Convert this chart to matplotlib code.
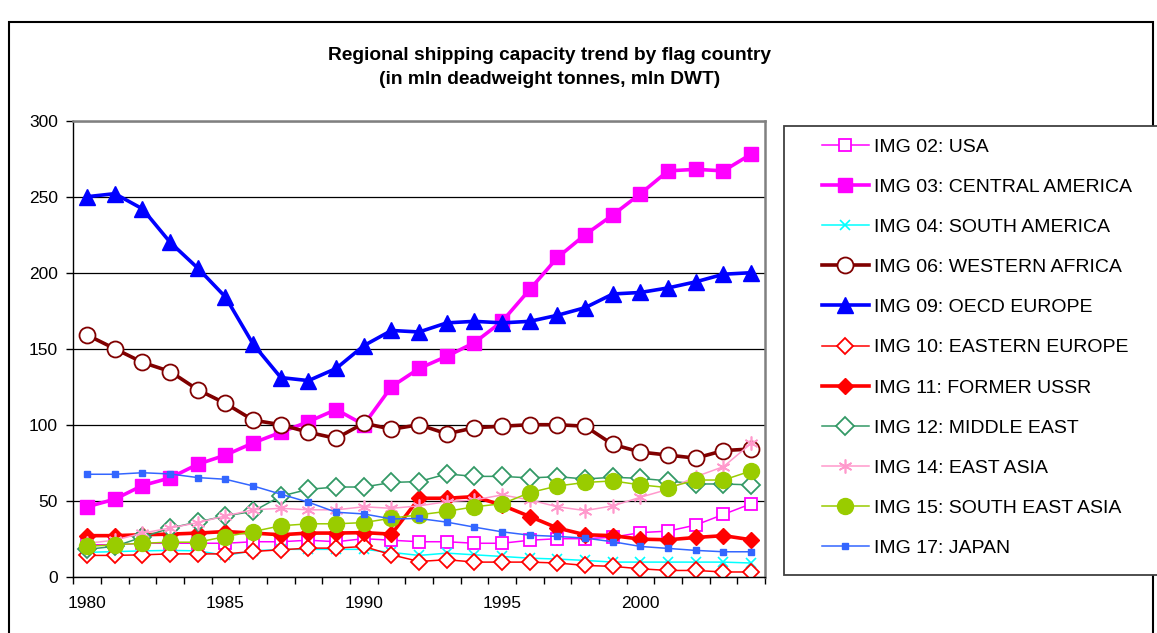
import matplotlib
matplotlib.use("Agg")
import matplotlib.pyplot as plt
from matplotlib.patches import Rectangle

plt.rcParams['font.family'] = ['Liberation Sans', 'DejaVu Sans']

years = list(range(1980, 2005))

usa = [21, 21, 22, 22, 22, 22, 23, 23, 24, 23, 25, 24, 23, 23, 22, 22, 24, 25, 25, 26, 29, 30, 34, 41, 48]
central_america = [46, 51, 60, 65, 74, 80, 88, 95, 102, 110, 100, 125, 137, 145, 154, 168, 189, 210, 225, 238, 252, 267, 268, 267, 278]
south_america = [16, 16.5, 17, 17.3, 17, 14, 17, 18, 18, 18, 18, 16, 14, 15.5, 14.4, 13.3, 12.2, 11.6, 10.7, 9.6, 9.6, 9.6, 9.6, 9.6, 9]
western_africa = [159, 150, 141, 135, 123, 114, 103, 100, 95, 91, 101, 97, 100, 94, 98, 99, 100, 100, 99, 87, 82, 80, 78, 83, 84]
oecd_europe = [250, 252, 242, 220, 203, 184, 153, 131, 129, 137, 152, 162, 161, 167, 168, 167, 168, 172, 177, 186, 187, 190, 194, 199, 200]
eastern_europe = [14, 14, 14.4, 15, 15, 15, 16.6, 17.7, 18.8, 18.8, 19.9, 14.4, 10, 11.2, 9.6, 9.6, 9.6, 9, 7.4, 6.8, 5.2, 4.1, 4.1, 3.1, 3.1]
former_ussr = [27, 27, 27.6, 28, 28.7, 29.7, 28.7, 27.6, 28.7, 28.7, 29, 28, 51.6, 51.6, 52.7, 47, 39.6, 32, 27.6, 27, 24.7, 24.3, 25.8, 27, 24.3]
middle_east = [18, 20, 26, 32, 36, 40, 43, 53, 57.5, 59, 59, 62, 62.6, 67.6, 66, 66, 65, 65.8, 64.3, 65.4, 64.7, 63, 61, 61, 60.4]
east_asia = [22, 24, 28.7, 32, 35.6, 40, 44, 45, 44, 44, 46, 45, 46.6, 49.4, 50.5, 53.8, 50.5, 46, 43.5, 46.6, 52.3, 57.5, 65.8, 72.4, 87.7]
se_asia = [20, 21, 22, 22.7, 22.7, 26.4, 29.7, 33.5, 34.8, 34.8, 35.6, 38.5, 40.7, 43, 46, 48, 55.3, 59.7, 62, 63, 60.4, 58.6, 63.6, 63.6, 69.6]
japan = [67.4, 67.4, 68.4, 67.6, 65.2, 64.1, 59.7, 54.3, 49, 42.4, 41.3, 38, 38.3, 35.9, 32.6, 29.5, 27.3, 26.5, 25.4, 23, 19.9, 18.6, 17.3, 16.4, 16.4]

labels = ["IMG 02: USA", "IMG 03: CENTRAL AMERICA", "IMG 04: SOUTH AMERICA",
          "IMG 06: WESTERN AFRICA", "IMG 09: OECD EUROPE", "IMG 10: EASTERN EUROPE",
          "IMG 11: FORMER USSR", "IMG 12: MIDDLE EAST", "IMG 14: EAST ASIA",
          "IMG 15: SOUTH EAST ASIA", "IMG 17: JAPAN"]

fig = plt.figure(figsize=(11.57, 6.33), dpi=100)
ax = fig.add_axes([73.3 / 1157, 1 - 576.7 / 633, (765 - 73.3) / 1157, (576.7 - 120.7) / 633])

thin = 1.1
thick = 2.6
ax.plot(years, usa, color='#FF00FF', lw=thin, marker='s', ms=9, mfc='white', mec='#FF00FF', mew=1.3, label=labels[0])
ax.plot(years, central_america, color='#FF00FF', lw=thick, marker='s', ms=10, mfc='#FF00FF', mec='#FF00FF', label=labels[1])
ax.plot(years, south_america, color='#00FFFF', lw=thin, marker='x', ms=7, mew=1.2, label=labels[2])
ax.plot(years, western_africa, color='#800000', lw=thick, marker='o', ms=11.5, mfc='white', mec='#800000', mew=1.3, label=labels[3])
ax.plot(years, oecd_europe, color='#0000FF', lw=thick, marker='^', ms=11.5, mfc='#0000FF', mec='#0000FF', label=labels[4])
ax.plot(years, eastern_europe, color='#FF0000', lw=thin, marker='D', ms=8, mfc='white', mec='#FF0000', mew=1.3, label=labels[5])
ax.plot(years, former_ussr, color='#FF0000', lw=thick, marker='D', ms=8.5, mfc='#FF0000', mec='#FF0000', label=labels[6])
ax.plot(years, middle_east, color='#339966', lw=thin, marker='D', ms=9.5, mfc='white', mec='#339966', mew=1.3, label=labels[7])
ax.plot(years, east_asia, color='#FF99CC', lw=thin, marker=(6, 2, 0), ms=10, mew=1.2, mec='#FF99CC', label=labels[8])
ax.plot(years, se_asia, color='#99CC00', lw=thin, marker='o', ms=11.5, mfc='#99CC00', mec='#99CC00', label=labels[9])
ax.plot(years, japan, color='#3366FF', lw=thin, marker='s', ms=4.5, mfc='#3366FF', mec='#3366FF', label=labels[10])

ax.set_xlim(1979.5, 2004.5)
ax.set_ylim(0, 300)
ax.set_yticks(range(0, 301, 50))
ax.yaxis.grid(True, color='black', lw=0.9)
ax.set_axisbelow(True)
ax.set_xticks([1980, 1985, 1990, 1995, 2000])
ax.set_xticks([y + 0.5 for y in range(1979, 2005)], minor=True)
ax.tick_params(axis='x', which='major', length=0, pad=14, labelsize=12.5)
ax.tick_params(axis='x', which='minor', length=5, width=1, direction='out')
ax.tick_params(axis='y', length=5, width=1, pad=6, labelsize=12.5)
for s in ['left', 'bottom']:
    ax.spines[s].set_color('black')
    ax.spines[s].set_linewidth(1)
for s in ['top', 'right']:
    ax.spines[s].set_color('#808080')
    ax.spines[s].set_linewidth(1.8)

# outer frame and legend frame
fig.patches.append(Rectangle((9 / 1157, -0.05), (1153 - 9) / 1157, 1.05 - 22 / 633,
                             transform=fig.transFigure, fill=False, ec='black', lw=1.5, zorder=1))
fig.patches.append(Rectangle((784 / 1157, 1 - 575 / 633), 0.5, (575 - 125.7) / 633,
                             transform=fig.transFigure, fc='white', ec='#404040', lw=1.3, zorder=2))

h, l = ax.get_legend_handles_labels()
leg = fig.legend(h, l, loc='upper left', bbox_to_anchor=(822 / 1157, 1 - 138 / 633),
                 frameon=False, fontsize=14, handlelength=2.4, handletextpad=0.25,
                 labelspacing=1.16, borderpad=0, borderaxespad=0)
leg.set_zorder(3)

fig.text(550 / 1157, 1 - 55 / 633, "Regional shipping capacity trend by flag country",
         ha='center', va='center', fontsize=13.8, fontweight='bold')
fig.text(550 / 1157, 1 - 80 / 633, "(in mln deadweight tonnes, mln DWT)",
         ha='center', va='center', fontsize=13.8, fontweight='bold')

fig.savefig("out.png", dpi=100)
